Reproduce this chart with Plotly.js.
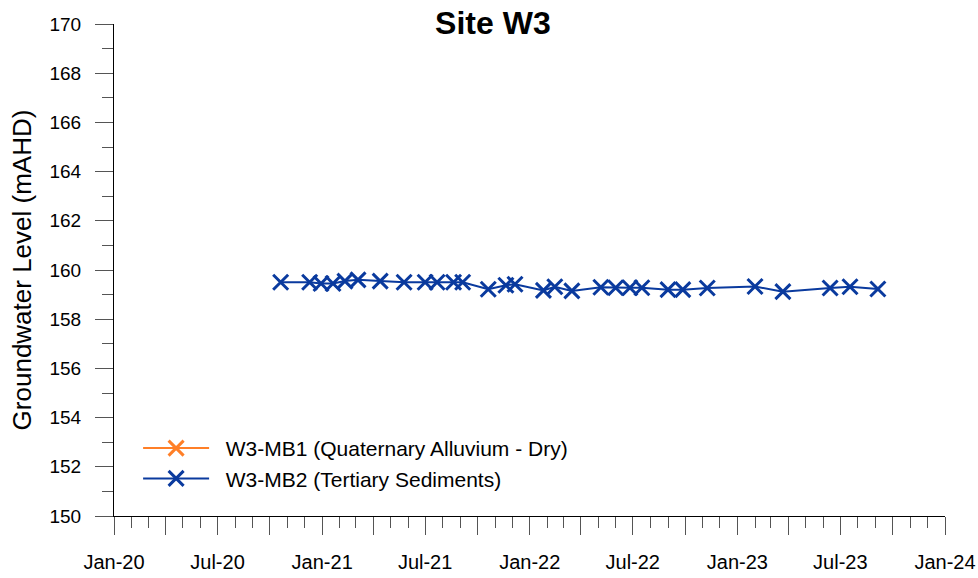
<!DOCTYPE html>
<html>
<head>
<meta charset="utf-8">
<script src="https://cdn.plot.ly/plotly-3.0.1.min.js"></script>
<style>html,body{margin:0;padding:0;background:#fff;}#chart{width:978px;height:578px;}</style>
</head>
<body>
<div id="chart"></div>
<script>
// Data
// W3-MB1 was dry: no readings
const mb1Dates = [null];
const mb1Levels = [null];

const mb2Dates = [
  "2020-10-20","2020-12-10","2020-12-30","2021-01-20","2021-02-10","2021-03-05",
  "2021-04-13","2021-05-25","2021-07-01","2021-07-22","2021-08-20","2021-09-05",
  "2021-10-20","2021-11-20","2021-12-06","2022-01-25","2022-02-14","2022-03-16",
  "2022-05-06","2022-06-01","2022-06-26","2022-07-17","2022-09-01","2022-09-27",
  "2022-11-09","2023-02-01","2023-03-22","2023-06-13","2023-07-18","2023-09-05"
];
const mb2Levels = [
  159.5, 159.5, 159.45, 159.45, 159.55, 159.6,
  159.55, 159.5, 159.5, 159.5, 159.5, 159.5,
  159.22, 159.38, 159.42, 159.17, 159.32, 159.15,
  159.3, 159.28, 159.28, 159.28, 159.2, 159.2,
  159.27, 159.33, 159.12, 159.27, 159.32, 159.23
];

const seriesNames = ["W3-MB1 (Quaternary Alluvium - Dry)", "W3-MB2 (Tertiary Sediments)"];
const xTickVals = [
  "2020-01-01","2020-04-01","2020-07-01","2020-10-01",
  "2021-01-01","2021-04-01","2021-07-01","2021-10-01",
  "2022-01-01","2022-04-01","2022-07-01","2022-10-01",
  "2023-01-01","2023-04-01","2023-07-01","2023-10-01","2024-01-01"
];
const xTickText = [
  "Jan-20","","Jul-20","",
  "Jan-21","","Jul-21","",
  "Jan-22","","Jul-22","",
  "Jan-23","","Jul-23","","Jan-24"
];

const FONT = "Arial, 'Liberation Sans', sans-serif";
const BLUE = "#0A3A9E";
const ORANGE = "#FF7F27";

const traces = [
  {
    x: mb1Dates, y: mb1Levels, name: "\u00a0\u00a0" + seriesNames[0], type: "scatter", mode: "lines+markers",
    line: {color: ORANGE, width: 2},
    marker: {symbol: "x-thin-open", size: 15, line: {color: ORANGE, width: 3}, color: ORANGE}
  },
  {
    x: mb2Dates, y: mb2Levels, name: "\u00a0\u00a0" + seriesNames[1], type: "scatter", mode: "lines+markers",
    line: {color: BLUE, width: 2},
    marker: {symbol: "x-thin-open", size: 15, line: {color: BLUE, width: 3}, color: BLUE}
  }
];

const layout = {
  width: 978, height: 578,
  margin: {l: 114, r: 33, t: 24, b: 62},
  paper_bgcolor: "#fff", plot_bgcolor: "#fff",
  font: {family: FONT, size: 20, color: "#000"},
  title: {text: "<b>Site W3</b>", font: {family: FONT, size: 32, color: "#000"},
          x: 0.504, xref: "container", xanchor: "center", y: 0.96, yref: "container", yanchor: "middle"},
  showlegend: true,
  legend: {x: 0.029, y: 0.179, xanchor: "left", yanchor: "top", bgcolor: "rgba(0,0,0,0)",
           font: {family: FONT, size: 21, color: "#000"}, tracegroupgap: 0, itemwidth: 66},
  xaxis: {
    type: "date", range: ["2020-01-01", "2024-01-01"],
    tickmode: "array", tickvals: xTickVals, ticktext: xTickText,
    ticks: "outside", ticklen: 18, tickwidth: 1, tickcolor: "#555",
    showline: true, linecolor: "#000", linewidth: 1, showgrid: false, zeroline: false,
    tickfont: {family: FONT, size: 20, color: "#000"}, ticklabelstandoff: 10,
    minor: {dtick: "M1", tick0: "2020-01-01", ticks: "outside", ticklen: 11, tickcolor: "#555", tickwidth: 1, showgrid: false}
  },
  yaxis: {
    range: [150, 170], dtick: 2, tick0: 150,
    ticks: "outside", ticklen: 18, tickwidth: 1, tickcolor: "#555",
    showline: true, linecolor: "#000", linewidth: 1, showgrid: false, zeroline: false,
    tickfont: {family: FONT, size: 19, color: "#000"}, ticklabelstandoff: 10,
    minor: {dtick: 1, ticks: "outside", ticklen: 11, tickcolor: "#555", tickwidth: 1, showgrid: false},
    title: {text: "Groundwater Level (mAHD)", font: {family: FONT, size: 26, color: "#000"}, standoff: 10}
  },
  hovermode: false
};

Plotly.newPlot("chart", traces, layout, {staticPlot: true, displayModeBar: false});
</script>
</body>
</html>
